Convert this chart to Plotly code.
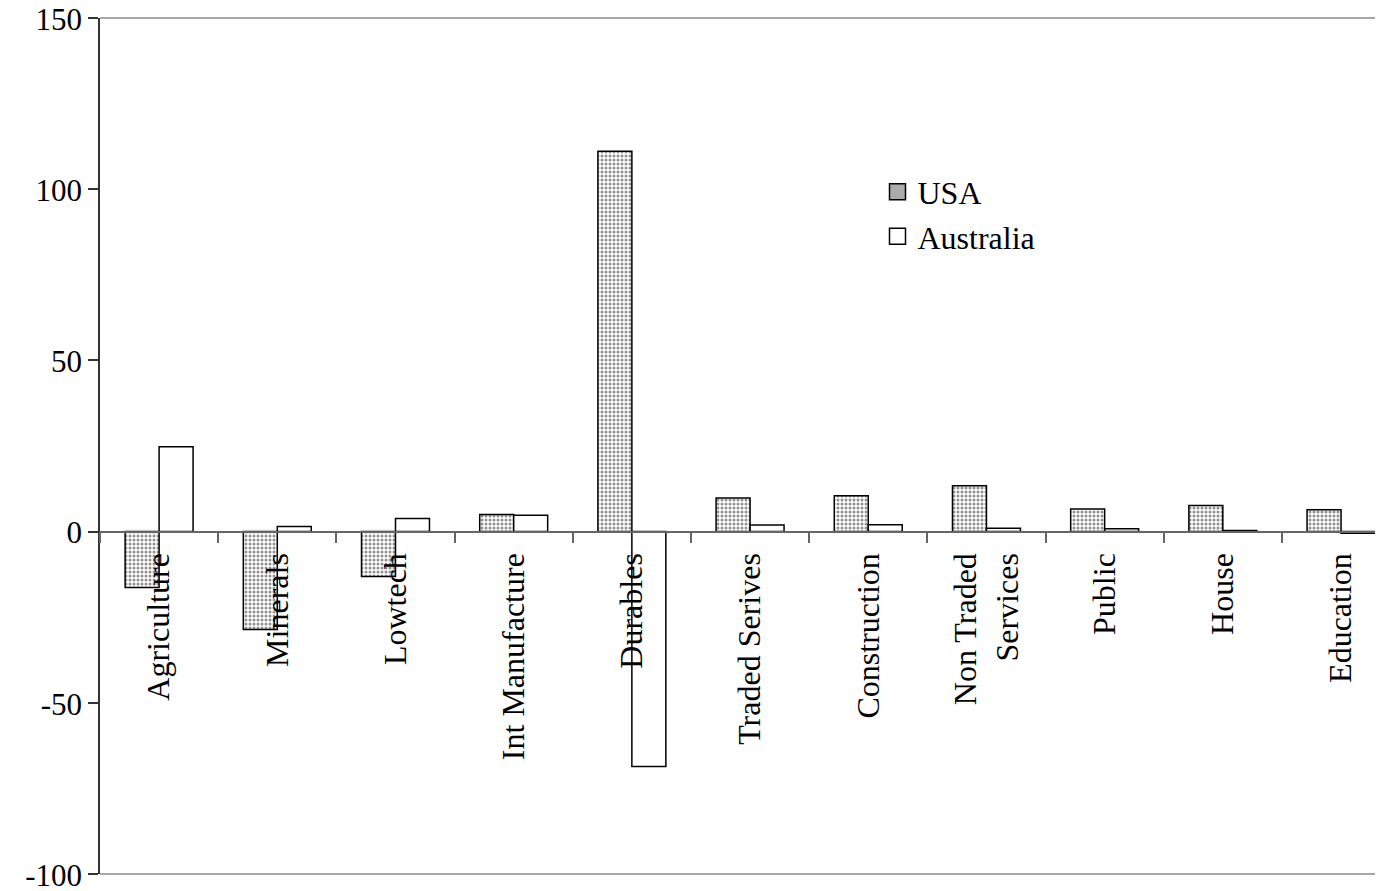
import plotly.graph_objects as go

categories = ["Agriculture", "Minerals", "Lowtech", "Int Manufacture", "Durables",
              "Traded Serives", "Construction", "Non Traded<br>Services", "Public",
              "House", "Education"]
usa = [-16.3, -28.6, -13.1, 5.0, 111.1, 9.8, 10.5, 13.4, 6.6, 7.6, 6.4]
australia = [24.8, 1.5, 3.8, 4.8, -68.6, 1.9, 2.0, 1.0, 0.8, 0.3, -0.5]
y_ticks = [-100, -50, 0, 50, 100, 150]
y_tick_labels = ["-100", "-50", "0", "50", "100", "150"]

FONT = "Liberation Serif, Times New Roman, serif"

fig = go.Figure()
fig.add_trace(go.Bar(
    x=categories, y=usa, name="USA", showlegend=False,
    marker=dict(color="white",
                line=dict(color="black", width=1.5),
                pattern=dict(shape=".", fgcolor="#222222", bgcolor="white",
                             size=4, solidity=0.45)),
))
fig.add_trace(go.Bar(
    x=categories, y=australia, name="Australia", showlegend=False,
    marker=dict(color="white", line=dict(color="black", width=1.5)),
))
# legend entries (larger square swatches)
fig.add_trace(go.Scatter(
    x=[None], y=[None], mode="markers", name="USA",
    marker=dict(symbol="square", size=20, color="#ababab",
                line=dict(color="black", width=1.5)),
))
fig.add_trace(go.Scatter(
    x=[None], y=[None], mode="markers", name="Australia",
    marker=dict(symbol="square", size=20, color="white",
                line=dict(color="black", width=1.5)),
))

# page body adds an 8px offset; figure is sized to fit the 1383x891 window
fig.update_layout(
    width=1375, height=883,
    paper_bgcolor="white", plot_bgcolor="white",
    margin=dict(l=92, r=0, t=10, b=17, autoexpand=False),
    barmode="group", bargap=0.425, bargroupgap=0,
    font=dict(family=FONT, size=32, color="black"),
    showlegend=True,
    legend=dict(x=0.606, y=0.829, xanchor="left", yanchor="top",
                bgcolor="rgba(0,0,0,0)", font=dict(size=32, family=FONT),
                tracegroupgap=0, itemwidth=30),
    xaxis=dict(
        type="category", range=[-0.5, 10.355],
        anchor="free", position=0.4, automargin=False,
        showline=True, linecolor="#666666", linewidth=1.5,
        ticks="outside", tickson="boundaries", ticklen=11, tickcolor="#666666",
        tickwidth=1.5, ticklabelstandoff=8,
        tickangle=-90, showgrid=False, zeroline=False,
        tickfont=dict(size=32, family=FONT, color="black"),
    ),
    yaxis=dict(
        range=[-100, 150], tickvals=y_ticks, ticktext=y_tick_labels,
        automargin=False, ticklabeloverflow="allow", ticklabelshift=1,
        showline=True, linecolor="#333333", linewidth=1.5,
        ticks="outside", ticklen=10, tickcolor="#333333", tickwidth=1.5,
        showgrid=False, zeroline=False,
        tickfont=dict(size=31, family=FONT, color="black"),
    ),
    shapes=[
        dict(type="line", xref="paper", yref="paper", x0=0, x1=1, y0=1, y1=1,
             line=dict(color="#888888", width=1.5)),
        dict(type="line", xref="paper", yref="paper", x0=0, x1=1, y0=0, y1=0,
             line=dict(color="#888888", width=1.5)),
    ],
)

fig.write_html("out.html")
